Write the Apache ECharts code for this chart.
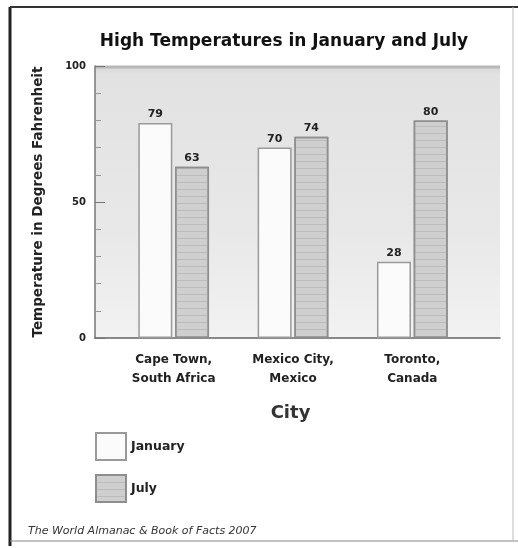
<!DOCTYPE html>
<html>
<head>
<meta charset="utf-8">
<script src="https://cdn.jsdelivr.net/npm/echarts@6/dist/echarts.min.js"></script>
<style>
  html, body { margin: 0; padding: 0; background: #fff; }
  #chart { width: 518px; height: 548px; }
</style>
</head>
<body>
<div id="chart"></div>
<script>
// City high temperatures (°F)
const cities = ['Cape Town,\nSouth Africa', 'Mexico City,\nMexico', 'Toronto,\nCanada'];
const january = [79, 70, 28];
const july = [63, 74, 80];
const yTicks = [0, 50, 100];
const seriesNames = ['January', 'July'];

const FONT = 'DejaVu Sans';
const chart = echarts.init(document.getElementById('chart'));

chart.setOption({
  animation: false,
  backgroundColor: '#ffffff',
  textStyle: { fontFamily: FONT },
  title: {
    text: 'High Temperatures in January and July',
    left: 279, top: 28, textAlign: 'center',
    textStyle: { fontSize: 17, fontWeight: 'bold', color: '#111', fontFamily: FONT }
  },
  legend: {
    orient: 'vertical', left: 90, top: 427, icon: 'rect',
    itemWidth: 30, itemHeight: 27, itemGap: 13,
    data: seriesNames,
    textStyle: { fontSize: 12.5, fontWeight: 'bold', color: '#222', fontFamily: FONT }
  },
  grid: [
    { left: 95, right: 18, top: 66, bottom: 210, show: true, borderWidth: 0,
      backgroundColor: new echarts.graphic.LinearGradient(0, 0, 0, 1, [
        { offset: 0, color: '#d6d6d6' },
        { offset: 0.03, color: '#e2e2e2' },
        { offset: 0.6, color: '#e8e8e8' },
        { offset: 1, color: '#f2f2f2' }
      ]) },
    { left: 114, right: 46, top: 66, bottom: 210 }
  ],
  xAxis: [
    { type: 'category', gridIndex: 0, data: [''],
      axisLine: { lineStyle: { color: '#666', width: 1.5 } },
      axisTick: { show: false }, axisLabel: { show: false },
      name: 'City', nameLocation: 'middle', nameGap: 66,
      nameTextStyle: { fontSize: 18, fontWeight: 'bold', color: '#333', fontFamily: FONT,
        padding: [0, 0, 0, -14] } },
    { type: 'category', gridIndex: 1, data: cities,
      axisLine: { show: false }, axisTick: { show: false },
      axisLabel: { fontSize: 12, fontWeight: 'bold', color: '#222', margin: 12, lineHeight: 19,
        fontFamily: FONT } }
  ],
  yAxis: [
    { type: 'value', gridIndex: 0, min: yTicks[0], max: yTicks[2], interval: 50,
      name: 'Temperature in Degrees Fahrenheit', nameLocation: 'middle', nameGap: 50,
      nameTextStyle: { fontSize: 13.5, fontWeight: 'bold', color: '#222', fontFamily: FONT },
      axisLine: { show: true, lineStyle: { color: '#777', width: 1.5 } },
      axisTick: { show: true, inside: true, length: 10, lineStyle: { color: '#777' } },
      minorTick: { show: true, splitNumber: 5, length: 6, lineStyle: { color: '#999' } },
      splitLine: { show: false },
      axisLabel: { fontSize: 10, fontWeight: 'bold', color: '#222', margin: 9, fontFamily: FONT } },
    { type: 'value', gridIndex: 1, min: yTicks[0], max: yTicks[2], show: false }
  ],
  series: [
    { name: seriesNames[0], type: 'bar', xAxisIndex: 1, yAxisIndex: 1, data: january,
      barWidth: 34, barGap: '8%',
      itemStyle: { color: '#fbfbfb', borderColor: '#9a9a9a', borderWidth: 1.5 },
      label: { show: true, position: 'top', distance: 3, fontSize: 11, fontWeight: 'bold', color: '#222', fontFamily: FONT } },
    { name: seriesNames[1], type: 'bar', xAxisIndex: 1, yAxisIndex: 1, data: july,
      barWidth: 34,
      itemStyle: { color: '#cfcfcf', borderColor: '#8e8e8e', borderWidth: 1.5,
        decal: { symbol: 'rect', symbolSize: 1, dashArrayX: [[1, 0]], dashArrayY: [1, 6], rotation: 0, color: 'rgba(170,170,170,0.5)' } },
      label: { show: true, position: 'top', distance: 3, fontSize: 11, fontWeight: 'bold', color: '#222', fontFamily: FONT } }
  ],
  graphic: [
    { type: 'line', shape: { x1: 10, y1: 7, x2: 10, y2: 546 }, style: { stroke: '#222', lineWidth: 3 }, silent: true },
    { type: 'line', shape: { x1: 10, y1: 7, x2: 518, y2: 7 }, style: { stroke: '#333', lineWidth: 2 }, silent: true },
    { type: 'line', shape: { x1: 10, y1: 541, x2: 518, y2: 541 }, style: { stroke: '#888', lineWidth: 1 }, silent: true },
    { type: 'line', shape: { x1: 513, y1: 7, x2: 513, y2: 541 }, style: { stroke: '#bbb', lineWidth: 1 }, silent: true },
    { type: 'line', shape: { x1: 95, y1: 67, x2: 500, y2: 67 }, style: { stroke: '#b8b8b8', lineWidth: 3 }, silent: true },
    { type: 'text', left: 28, top: 526,
      style: { text: 'The World Almanac & Book of Facts 2007', fontSize: 11, fontStyle: 'italic',
        fontFamily: FONT, fill: '#333' } }
  ]
});
</script>
</body>
</html>
